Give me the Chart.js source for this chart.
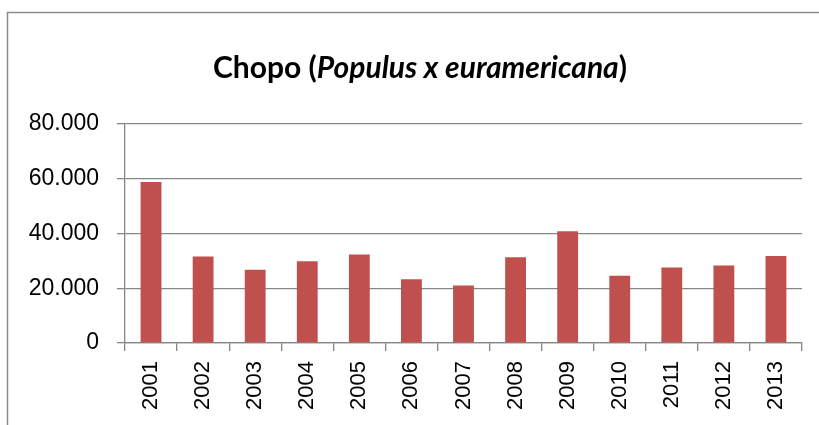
<!DOCTYPE html>
<html>
<head>
<meta charset="utf-8">
<script src="https://cdn.jsdelivr.net/npm/chart.js@4/dist/chart.umd.min.js"></script>
<style>
    html, body { margin: 0; padding: 0; background: #fff; overflow: hidden; }
    canvas { display: block; }
</style>
</head>
<body>
<canvas id="chopoChart" width="819" height="425"></canvas>
<script>
// años y superficie (valores del gráfico)
const years = ['2001', '2002', '2003', '2004', '2005', '2006', '2007', '2008', '2009', '2010', '2011', '2012', '2013'];
const chopoValues = [58800, 31600, 26800, 29900, 32300, 23300, 21000, 31300, 40800, 24600, 27600, 28300, 31800];
const yTicks = [0, 20000, 40000, 60000, 80000];
const titleParts = [
    { text: 'Chopo (', italic: false },
    { text: 'Populus x euramericana', italic: true },
    { text: ')', italic: false }
];

const GRID = '#868686';

// marco y título con parte en cursiva
const frameAndTitle = {
    id: 'frameAndTitle',
    beforeDraw(chart) {
        const ctx = chart.ctx;
        ctx.save();
        ctx.strokeStyle = '#8c8c8c';
        ctx.lineWidth = 1.5;
        ctx.beginPath();
        ctx.moveTo(7.5, chart.height + 2);
        ctx.lineTo(7.5, 12.5);
        ctx.lineTo(chart.width + 2, 12.5);
        ctx.stroke();
        ctx.restore();
    },
    afterDraw(chart) {
        const ctx = chart.ctx;
        ctx.save();
        ctx.fillStyle = '#000';
        ctx.textBaseline = 'alphabetic';
        const fontOf = p => (p.italic ? 'italic ' : '') + 'bold 30px Lato, "Open Sans", sans-serif';
        let total = 0;
        titleParts.forEach(p => {
            ctx.font = fontOf(p);
            total += ctx.measureText(p.text).width;
        });
        let x = 420 - total / 2;
        titleParts.forEach(p => {
            ctx.font = fontOf(p);
            ctx.fillText(p.text, x, 78);
            x += ctx.measureText(p.text).width;
        });
        ctx.restore();
    }
};

const canvas = document.getElementById('chopoChart');
new Chart(canvas, {
    type: 'bar',
    data: {
        labels: years,
        datasets: [{
            data: chopoValues,
            backgroundColor: '#C0504D',
            borderWidth: 0,
            barPercentage: 0.4,
            categoryPercentage: 1.0
        }]
    },
    options: {
        responsive: false,
        animation: false,
        layout: { padding: { top: 124, right: 17, left: 0, bottom: 0 } },
        plugins: {
            legend: { display: false },
            tooltip: { enabled: false }
        },
        scales: {
            x: {
                offset: true,
                grid: {
                    offset: true,
                    drawOnChartArea: false,
                    drawTicks: true,
                    tickLength: 8,
                    color: GRID,
                    lineWidth: 1.3
                },
                border: { color: GRID, width: 1.3 },
                ticks: {
                    minRotation: 90,
                    maxRotation: 90,
                    padding: 10,
                    color: '#000',
                    font: { family: '"Liberation Sans", Arial, sans-serif', size: 22 }
                },
                afterFit(scale) { scale.height = 82; }
            },
            y: {
                min: 0,
                max: 80000,
                afterBuildTicks(scale) { scale.ticks = yTicks.map(v => ({ value: v })); },
                grid: {
                    color: GRID,
                    lineWidth: 1.3,
                    drawTicks: true,
                    tickLength: 8
                },
                border: { color: GRID, width: 1.3 },
                ticks: {
                    padding: 18,
                    color: '#000',
                    font: { family: '"Liberation Sans", Arial, sans-serif', size: 23 },
                    callback: v => String(v).replace(/\B(?=(\d{3})+(?!\d))/g, '.')
                },
                afterFit(scale) { scale.width = 125; }
            }
        }
    },
    plugins: [frameAndTitle]
});
</script>
</body>
</html>
